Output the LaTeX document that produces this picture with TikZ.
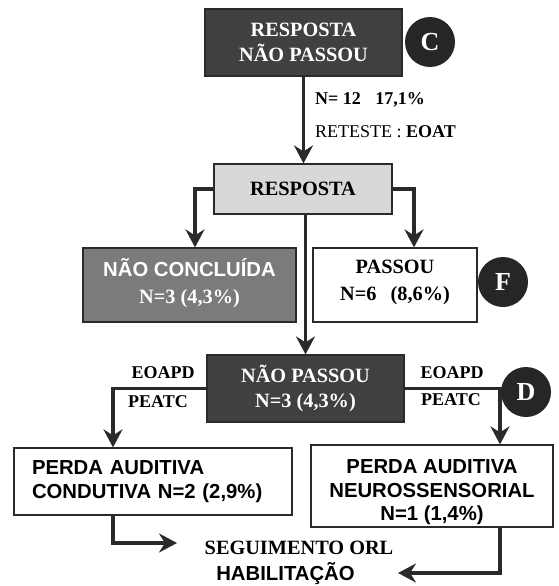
\documentclass[tikz,border=0pt]{standalone}
\usepackage{fontspec}
\setmainfont{Liberation Serif}
\newfontfamily\sansb{Liberation Sans}
\usetikzlibrary{arrows.meta}
\definecolor{darkbox}{HTML}{404040}
\definecolor{midbox}{HTML}{7B7B7B}
\definecolor{lightbox}{HTML}{D8D8D8}
\definecolor{badgecol}{HTML}{262626}
\definecolor{linecol}{HTML}{2A2A2A}
\begin{document}
\begin{tikzpicture}[x=1pt,y=-1pt,
  box/.style={draw=linecol,line width=1.2pt,inner sep=0pt,align=center,
    font=\fontsize{20.3}{24}\selectfont\bfseries},
  darkbox/.style={box,fill=darkbox,text=white},
  badge/.style={circle,fill=badgecol,text=white,minimum size=50pt,inner sep=0pt,
    font=\fontsize{26}{26}\selectfont\bfseries},
  arr/.style={line width=3.4pt,draw=linecol,
    -{Stealth[length=18pt,width=19pt,inset=6pt]}},
  lbl/.style={inner sep=0pt,font=\fontsize{18}{18}\selectfont\bfseries},
  bigtxt/.style={inner sep=0pt,font=\fontsize{20.3}{20.3}\selectfont\bfseries}
]
\useasboundingbox (0,0) rectangle (558,586);

% boxes
\node[darkbox,minimum width=197pt,minimum height=67pt] (b1) at (303.5,42.5)
  {RESPOSTA\\[1pt]NÃO PASSOU};
\node[badge] (bc) at (430,42) {C};

\node[box,fill=lightbox,minimum width=178pt,minimum height=50pt] (resp) at (303,189)
  {RESPOSTA};

\node[box,fill=midbox,text=white,minimum width=213pt,minimum height=74pt] (nc) at (189.5,285)
  {{\sansb NÃO CONCLUÍDA}\\[3pt]N=3 (4,3\%)\rule[-9pt]{0pt}{9pt}};
\node[box,fill=white,minimum width=164pt,minimum height=74pt] (ps) at (395,285)
  {PASSOU\\[3pt]N=6\hspace{0.7em}(8,6\%)\rule[-9pt]{0pt}{9pt}};
\node[badge] (bf) at (503,282) {F};

\node[darkbox,minimum width=197pt,minimum height=67pt] (np) at (305.5,388.5)
  {NÃO PASSOU\\[1pt]N=3 (4,3\%)};
\node[badge] (bd) at (526,392) {D};

\node[box,fill=white,font=\fontsize{20.3}{24}\selectfont\sansb\bfseries,
  text width=242pt,align=left,inner xsep=18pt,minimum height=67pt] (lb) at (153,481.5)
  {PERDA AUDITIVA\\CONDUTIVA N=2 (2,9\%)};
\node[box,fill=white,font=\fontsize{20.3}{23.5}\selectfont\sansb\bfseries,
  minimum width=242pt,minimum height=82pt] (rb) at (432,486)
  {\rule{0pt}{27pt}PERDA AUDITIVA\\NEUROSSENSORIAL\\N=1 (1,4\%)};

% texts
\node[lbl,anchor=west] (n12) at (315,100) {N= 12\hspace{0.8em}17,1\%};
\node[lbl,anchor=west] (ret) at (315,132) {{\mdseries RETESTE :} EOAT};
\node[lbl] (eo1) at (163,373) {EOAPD};
\node[lbl] (pe1) at (158,402) {PEATC};
\node[lbl] (eo2) at (452,373) {EOAPD};
\node[lbl] (pe2) at (451,400) {PEATC};
\node[bigtxt] (seg) at (299,548) {SEGUIMENTO ORL};
\node[bigtxt,anchor=base,font=\fontsize{20.3}{20.3}\selectfont\sansb\bfseries] (hab) at (285.5,580.5) {HABILITAÇÃO};

% connectors
\draw[arr] (b1.south) -- (b1.south |- resp.north);
\draw[arr] (resp.west) -| ([xshift=5.5pt]nc.north);
\draw[arr] (resp.east) -| ([xshift=19pt]ps.north);
\draw[arr] (np.north |- resp.south) -- (np.north);
\draw[arr] (np.west) -| ([xshift=-40pt]lb.north);
\draw[arr] (np.east) -| ([xshift=68pt]rb.north);
\coordinate (t1) at (177,543);
\coordinate (t2) at (398,573);
\draw[arr] ([xshift=-40pt]lb.south) |- (t1);
\draw[arr] ([xshift=68pt]rb.south) |- (t2);
\end{tikzpicture}
\end{document}
